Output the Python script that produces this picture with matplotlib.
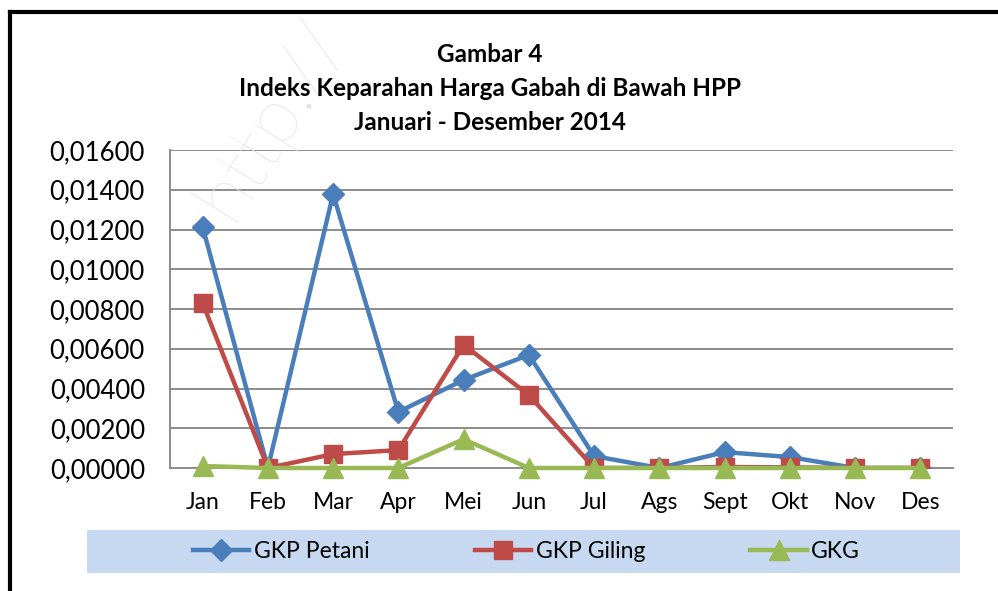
import matplotlib.pyplot as plt
from matplotlib.lines import Line2D
from matplotlib.patches import Rectangle
from matplotlib.ticker import FuncFormatter

plt.rcParams['font.family'] = ['Lato', 'DejaVu Sans']

bulan = ['Jan', 'Feb', 'Mar', 'Apr', 'Mei', 'Jun', 'Jul', 'Ags', 'Sept', 'Okt', 'Nov', 'Des']
gkp_petani = [0.01213, 0.0, 0.01378, 0.00282, 0.00443, 0.00569, 0.00060, 0.0, 0.00080, 0.00055, 0.0, 0.0]
gkp_giling = [0.00830, 0.0, 0.00070, 0.00090, 0.00620, 0.00367, 0.0, 0.0, 0.00005, 0.00003, 0.0, 0.0]
gkg = [0.00010, 0.0, 0.0, 0.0, 0.00145, 0.0, 0.0, 0.0, 0.0, 0.0, 0.0, 0.0]

fig = plt.figure(figsize=(9.98, 5.91), dpi=100)
ax = fig.add_axes([170/998, 1-468/591, (953-170)/998, (468-150)/591])

x = range(len(bulan))
ax.plot(x, gkp_petani, color='#4A7EBB', lw=3.2, marker='D', ms=11, label='GKP Petani', zorder=3)
ax.plot(x, gkp_giling, color='#BE4B48', lw=3.2, marker='s', ms=13, label='GKP Giling', zorder=4)
ax.plot(x, gkg, color='#98B954', lw=3.2, marker='^', ms=14, label='GKG', zorder=5, clip_on=False)

ax.set_xlim(-0.5, 11.5)
ax.set_ylim(0, 0.016)
ax.set_yticks([i * 0.002 for i in range(9)])
ax.yaxis.set_major_formatter(FuncFormatter(lambda v, p: ('%.5f' % v).replace('.', ',')))
ax.set_xticks(list(x))
ax.set_xticklabels(bulan)
ax.tick_params(axis='both', length=0, colors='black')
ax.tick_params(axis='y', pad=18, labelsize=18.5)
ax.tick_params(axis='x', pad=17, labelsize=16.5)
ax.grid(axis='y', color='#8C8C8C', lw=1.4)
ax.set_axisbelow(True)
for s in ['top', 'right']:
    ax.spines[s].set_visible(False)
for s in ['left', 'bottom']:
    ax.spines[s].set_color('#8C8C8C')
    ax.spines[s].set_linewidth(1.4)

fig.text(0.491, 1-55/591, 'Gambar 4', ha='center', va='center', fontsize=17.5, fontweight='bold')
fig.text(0.491, 1-88/591, 'Indeks Keparahan Harga Gabah di Bawah HPP', ha='center', va='center',
         fontsize=17.5, fontweight='bold')
fig.text(0.491, 1-122/591, 'Januari - Desember 2014', ha='center', va='center', fontsize=17.5, fontweight='bold')

# watermark samar
fig.text(0.272, 0.80, 'http://', rotation=58, ha='center', va='center', fontsize=56,
         fontweight='light', color='#E4E4E4', zorder=0)

# kotak legenda
fig.patches.append(Rectangle((87/998, 1-573/591), (960-87)/998, 43/591, transform=fig.transFigure,
                             facecolor='#C6D9F0', edgecolor='none', zorder=0))
fig.legend(loc='center', bbox_to_anchor=(526.5/998, 1-552/591), ncol=3, frameon=False,
           fontsize=16.5, handlelength=2.45, handletextpad=0.2, columnspacing=4.6)

# bingkai
fig.add_artist(Line2D([10/998, 1], [1-12/591, 1-12/591], color='black', lw=3, transform=fig.transFigure))
fig.add_artist(Line2D([10/998, 10/998], [0, 1-12/591], color='black', lw=3, transform=fig.transFigure))

fig.savefig('out.png', dpi=100)
